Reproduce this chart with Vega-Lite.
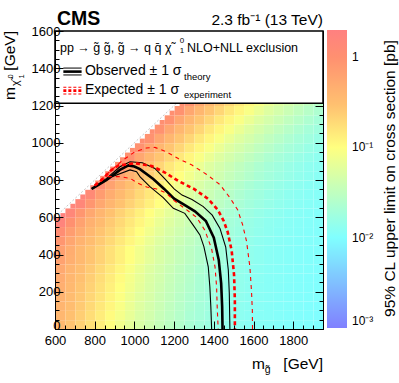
{
"$schema": "https://vega.github.io/schema/vega-lite/v6.json",
"width": 268, "height": 298,
"autosize": {"type": "none"},
"padding": {"left": 55, "top": 31, "right": 76, "bottom": 54},
"background": "white",
"config": {"view": {"stroke": "black", "strokeWidth": 1}, "font": "Liberation Sans"},
"data": {"values": [{}]},
"datasets": {
"heat": [
{"mg":600,"mchi":0,"v":0.355},{"mg":650,"mchi":0,"v":0.28},{"mg":700,"mchi":0,"v":0.22},{"mg":750,"mchi":0,"v":0.17},{"mg":800,"mchi":0,"v":0.13},{"mg":850,"mchi":0,"v":0.10},{"mg":900,"mchi":0,"v":0.079},{"mg":950,"mchi":0,"v":0.062},{"mg":1000,"mchi":0,"v":0.050},{"mg":1050,"mchi":0,"v":0.042},{"mg":1100,"mchi":0,"v":0.035},{"mg":1150,"mchi":0,"v":0.0295},{"mg":1200,"mchi":0,"v":0.025},{"mg":1250,"mchi":0,"v":0.0215},{"mg":1300,"mchi":0,"v":0.019},{"mg":1350,"mchi":0,"v":0.0168},{"mg":1400,"mchi":0,"v":0.0151},{"mg":1450,"mchi":0,"v":0.0138},{"mg":1500,"mchi":0,"v":0.0128},{"mg":1550,"mchi":0,"v":0.012},{"mg":1600,"mchi":0,"v":0.0115},{"mg":1650,"mchi":0,"v":0.0112},{"mg":1700,"mchi":0,"v":0.0108},{"mg":1750,"mchi":0,"v":0.0106},{"mg":1800,"mchi":0,"v":0.0103},{"mg":1850,"mchi":0,"v":0.0101},{"mg":1900,"mchi":0,"v":0.0099},
{"mg":600,"mchi":50,"v":0.375},{"mg":650,"mchi":50,"v":0.30},{"mg":700,"mchi":50,"v":0.235},{"mg":750,"mchi":50,"v":0.18},{"mg":800,"mchi":50,"v":0.14},{"mg":850,"mchi":50,"v":0.108},{"mg":900,"mchi":50,"v":0.084},{"mg":950,"mchi":50,"v":0.066},{"mg":1000,"mchi":50,"v":0.052},{"mg":1050,"mchi":50,"v":0.044},{"mg":1100,"mchi":50,"v":0.036},{"mg":1150,"mchi":50,"v":0.031},{"mg":1200,"mchi":50,"v":0.026},{"mg":1250,"mchi":50,"v":0.022},{"mg":1300,"mchi":50,"v":0.0195},{"mg":1350,"mchi":50,"v":0.0173},{"mg":1400,"mchi":50,"v":0.0155},{"mg":1450,"mchi":50,"v":0.0141},{"mg":1500,"mchi":50,"v":0.013},{"mg":1550,"mchi":50,"v":0.0122},{"mg":1600,"mchi":50,"v":0.0116},{"mg":1650,"mchi":50,"v":0.0113},{"mg":1700,"mchi":50,"v":0.0109},{"mg":1750,"mchi":50,"v":0.0106},{"mg":1800,"mchi":50,"v":0.0104},{"mg":1850,"mchi":50,"v":0.0101},{"mg":1900,"mchi":50,"v":0.0099},
{"mg":600,"mchi":100,"v":0.40},{"mg":650,"mchi":100,"v":0.32},{"mg":700,"mchi":100,"v":0.25},{"mg":750,"mchi":100,"v":0.195},{"mg":800,"mchi":100,"v":0.15},{"mg":850,"mchi":100,"v":0.116},{"mg":900,"mchi":100,"v":0.089},{"mg":950,"mchi":100,"v":0.070},{"mg":1000,"mchi":100,"v":0.055},{"mg":1050,"mchi":100,"v":0.046},{"mg":1100,"mchi":100,"v":0.038},{"mg":1150,"mchi":100,"v":0.032},{"mg":1200,"mchi":100,"v":0.027},{"mg":1250,"mchi":100,"v":0.023},{"mg":1300,"mchi":100,"v":0.020},{"mg":1350,"mchi":100,"v":0.0178},{"mg":1400,"mchi":100,"v":0.0158},{"mg":1450,"mchi":100,"v":0.0145},{"mg":1500,"mchi":100,"v":0.0132},{"mg":1550,"mchi":100,"v":0.0124},{"mg":1600,"mchi":100,"v":0.0117},{"mg":1650,"mchi":100,"v":0.0114},{"mg":1700,"mchi":100,"v":0.011},{"mg":1750,"mchi":100,"v":0.0107},{"mg":1800,"mchi":100,"v":0.0105},{"mg":1850,"mchi":100,"v":0.0102},{"mg":1900,"mchi":100,"v":0.0100},
{"mg":600,"mchi":150,"v":0.42},{"mg":650,"mchi":150,"v":0.335},{"mg":700,"mchi":150,"v":0.265},{"mg":750,"mchi":150,"v":0.205},{"mg":800,"mchi":150,"v":0.16},{"mg":850,"mchi":150,"v":0.122},{"mg":900,"mchi":150,"v":0.094},{"mg":950,"mchi":150,"v":0.074},{"mg":1000,"mchi":150,"v":0.058},{"mg":1050,"mchi":150,"v":0.048},{"mg":1100,"mchi":150,"v":0.040},{"mg":1150,"mchi":150,"v":0.0335},{"mg":1200,"mchi":150,"v":0.028},{"mg":1250,"mchi":150,"v":0.024},{"mg":1300,"mchi":150,"v":0.0207},{"mg":1350,"mchi":150,"v":0.0183},{"mg":1400,"mchi":150,"v":0.0163},{"mg":1450,"mchi":150,"v":0.0148},{"mg":1500,"mchi":150,"v":0.0135},{"mg":1550,"mchi":150,"v":0.0126},{"mg":1600,"mchi":150,"v":0.0119},{"mg":1650,"mchi":150,"v":0.0115},{"mg":1700,"mchi":150,"v":0.0111},{"mg":1750,"mchi":150,"v":0.0108},{"mg":1800,"mchi":150,"v":0.0106},{"mg":1850,"mchi":150,"v":0.0103},{"mg":1900,"mchi":150,"v":0.0101},
{"mg":600,"mchi":200,"v":0.46},{"mg":650,"mchi":200,"v":0.355},{"mg":700,"mchi":200,"v":0.28},{"mg":750,"mchi":200,"v":0.22},{"mg":800,"mchi":200,"v":0.17},{"mg":850,"mchi":200,"v":0.13},{"mg":900,"mchi":200,"v":0.10},{"mg":950,"mchi":200,"v":0.079},{"mg":1000,"mchi":200,"v":0.062},{"mg":1050,"mchi":200,"v":0.050},{"mg":1100,"mchi":200,"v":0.042},{"mg":1150,"mchi":200,"v":0.035},{"mg":1200,"mchi":200,"v":0.0295},{"mg":1250,"mchi":200,"v":0.025},{"mg":1300,"mchi":200,"v":0.0215},{"mg":1350,"mchi":200,"v":0.019},{"mg":1400,"mchi":200,"v":0.0168},{"mg":1450,"mchi":200,"v":0.0151},{"mg":1500,"mchi":200,"v":0.0138},{"mg":1550,"mchi":200,"v":0.0128},{"mg":1600,"mchi":200,"v":0.012},{"mg":1650,"mchi":200,"v":0.0115},{"mg":1700,"mchi":200,"v":0.0112},{"mg":1750,"mchi":200,"v":0.0108},{"mg":1800,"mchi":200,"v":0.0106},{"mg":1850,"mchi":200,"v":0.0103},{"mg":1900,"mchi":200,"v":0.0101},
{"mg":600,"mchi":250,"v":0.49},{"mg":650,"mchi":250,"v":0.375},{"mg":700,"mchi":250,"v":0.30},{"mg":750,"mchi":250,"v":0.235},{"mg":800,"mchi":250,"v":0.18},{"mg":850,"mchi":250,"v":0.14},{"mg":900,"mchi":250,"v":0.108},{"mg":950,"mchi":250,"v":0.084},{"mg":1000,"mchi":250,"v":0.066},{"mg":1050,"mchi":250,"v":0.052},{"mg":1100,"mchi":250,"v":0.044},{"mg":1150,"mchi":250,"v":0.036},{"mg":1200,"mchi":250,"v":0.031},{"mg":1250,"mchi":250,"v":0.026},{"mg":1300,"mchi":250,"v":0.022},{"mg":1350,"mchi":250,"v":0.0195},{"mg":1400,"mchi":250,"v":0.0173},{"mg":1450,"mchi":250,"v":0.0155},{"mg":1500,"mchi":250,"v":0.0141},{"mg":1550,"mchi":250,"v":0.013},{"mg":1600,"mchi":250,"v":0.0122},{"mg":1650,"mchi":250,"v":0.0116},{"mg":1700,"mchi":250,"v":0.0113},{"mg":1750,"mchi":250,"v":0.0109},{"mg":1800,"mchi":250,"v":0.0106},{"mg":1850,"mchi":250,"v":0.0104},{"mg":1900,"mchi":250,"v":0.0101},
{"mg":600,"mchi":300,"v":0.53},{"mg":650,"mchi":300,"v":0.40},{"mg":700,"mchi":300,"v":0.32},{"mg":750,"mchi":300,"v":0.25},{"mg":800,"mchi":300,"v":0.195},{"mg":850,"mchi":300,"v":0.15},{"mg":900,"mchi":300,"v":0.116},{"mg":950,"mchi":300,"v":0.089},{"mg":1000,"mchi":300,"v":0.070},{"mg":1050,"mchi":300,"v":0.055},{"mg":1100,"mchi":300,"v":0.046},{"mg":1150,"mchi":300,"v":0.038},{"mg":1200,"mchi":300,"v":0.032},{"mg":1250,"mchi":300,"v":0.027},{"mg":1300,"mchi":300,"v":0.023},{"mg":1350,"mchi":300,"v":0.020},{"mg":1400,"mchi":300,"v":0.0178},{"mg":1450,"mchi":300,"v":0.0158},{"mg":1500,"mchi":300,"v":0.0145},{"mg":1550,"mchi":300,"v":0.0132},{"mg":1600,"mchi":300,"v":0.0124},{"mg":1650,"mchi":300,"v":0.0117},{"mg":1700,"mchi":300,"v":0.0114},{"mg":1750,"mchi":300,"v":0.011},{"mg":1800,"mchi":300,"v":0.0107},{"mg":1850,"mchi":300,"v":0.0105},{"mg":1900,"mchi":300,"v":0.0102},
{"mg":600,"mchi":350,"v":0.64},{"mg":650,"mchi":350,"v":0.46},{"mg":700,"mchi":350,"v":0.355},{"mg":750,"mchi":350,"v":0.28},{"mg":800,"mchi":350,"v":0.22},{"mg":850,"mchi":350,"v":0.17},{"mg":900,"mchi":350,"v":0.13},{"mg":950,"mchi":350,"v":0.10},{"mg":1000,"mchi":350,"v":0.079},{"mg":1050,"mchi":350,"v":0.062},{"mg":1100,"mchi":350,"v":0.050},{"mg":1150,"mchi":350,"v":0.042},{"mg":1200,"mchi":350,"v":0.035},{"mg":1250,"mchi":350,"v":0.0295},{"mg":1300,"mchi":350,"v":0.025},{"mg":1350,"mchi":350,"v":0.0215},{"mg":1400,"mchi":350,"v":0.019},{"mg":1450,"mchi":350,"v":0.0168},{"mg":1500,"mchi":350,"v":0.0151},{"mg":1550,"mchi":350,"v":0.0138},{"mg":1600,"mchi":350,"v":0.0128},{"mg":1650,"mchi":350,"v":0.012},{"mg":1700,"mchi":350,"v":0.0115},{"mg":1750,"mchi":350,"v":0.0112},{"mg":1800,"mchi":350,"v":0.0108},{"mg":1850,"mchi":350,"v":0.0106},{"mg":1900,"mchi":350,"v":0.0103},
{"mg":600,"mchi":400,"v":0.67},{"mg":650,"mchi":400,"v":0.48},{"mg":700,"mchi":400,"v":0.355},{"mg":750,"mchi":400,"v":0.28},{"mg":800,"mchi":400,"v":0.22},{"mg":850,"mchi":400,"v":0.17},{"mg":900,"mchi":400,"v":0.13},{"mg":950,"mchi":400,"v":0.10},{"mg":1000,"mchi":400,"v":0.079},{"mg":1050,"mchi":400,"v":0.062},{"mg":1100,"mchi":400,"v":0.050},{"mg":1150,"mchi":400,"v":0.042},{"mg":1200,"mchi":400,"v":0.035},{"mg":1250,"mchi":400,"v":0.0295},{"mg":1300,"mchi":400,"v":0.025},{"mg":1350,"mchi":400,"v":0.0215},{"mg":1400,"mchi":400,"v":0.019},{"mg":1450,"mchi":400,"v":0.0168},{"mg":1500,"mchi":400,"v":0.0151},{"mg":1550,"mchi":400,"v":0.0138},{"mg":1600,"mchi":400,"v":0.0128},{"mg":1650,"mchi":400,"v":0.012},{"mg":1700,"mchi":400,"v":0.0115},{"mg":1750,"mchi":400,"v":0.0112},{"mg":1800,"mchi":400,"v":0.0108},{"mg":1850,"mchi":400,"v":0.0106},{"mg":1900,"mchi":400,"v":0.0103},
{"mg":600,"mchi":450,"v":0.85},{"mg":650,"mchi":450,"v":0.58},{"mg":700,"mchi":450,"v":0.42},{"mg":750,"mchi":450,"v":0.32},{"mg":800,"mchi":450,"v":0.25},{"mg":850,"mchi":450,"v":0.195},{"mg":900,"mchi":450,"v":0.15},{"mg":950,"mchi":450,"v":0.116},{"mg":1000,"mchi":450,"v":0.089},{"mg":1050,"mchi":450,"v":0.070},{"mg":1100,"mchi":450,"v":0.055},{"mg":1150,"mchi":450,"v":0.046},{"mg":1200,"mchi":450,"v":0.038},{"mg":1250,"mchi":450,"v":0.032},{"mg":1300,"mchi":450,"v":0.027},{"mg":1350,"mchi":450,"v":0.023},{"mg":1400,"mchi":450,"v":0.020},{"mg":1450,"mchi":450,"v":0.0178},{"mg":1500,"mchi":450,"v":0.0158},{"mg":1550,"mchi":450,"v":0.0145},{"mg":1600,"mchi":450,"v":0.0132},{"mg":1650,"mchi":450,"v":0.0124},{"mg":1700,"mchi":450,"v":0.0117},{"mg":1750,"mchi":450,"v":0.0114},{"mg":1800,"mchi":450,"v":0.011},{"mg":1850,"mchi":450,"v":0.0107},{"mg":1900,"mchi":450,"v":0.0105},
{"mg":600,"mchi":500,"v":1.15},{"mg":650,"mchi":500,"v":0.73},{"mg":700,"mchi":500,"v":0.51},{"mg":750,"mchi":500,"v":0.37},{"mg":800,"mchi":500,"v":0.28},{"mg":850,"mchi":500,"v":0.22},{"mg":900,"mchi":500,"v":0.17},{"mg":950,"mchi":500,"v":0.13},{"mg":1000,"mchi":500,"v":0.10},{"mg":1050,"mchi":500,"v":0.079},{"mg":1100,"mchi":500,"v":0.062},{"mg":1150,"mchi":500,"v":0.050},{"mg":1200,"mchi":500,"v":0.042},{"mg":1250,"mchi":500,"v":0.035},{"mg":1300,"mchi":500,"v":0.0295},{"mg":1350,"mchi":500,"v":0.025},{"mg":1400,"mchi":500,"v":0.0215},{"mg":1450,"mchi":500,"v":0.019},{"mg":1500,"mchi":500,"v":0.0168},{"mg":1550,"mchi":500,"v":0.0151},{"mg":1600,"mchi":500,"v":0.0138},{"mg":1650,"mchi":500,"v":0.0128},{"mg":1700,"mchi":500,"v":0.012},{"mg":1750,"mchi":500,"v":0.0115},{"mg":1800,"mchi":500,"v":0.0112},{"mg":1850,"mchi":500,"v":0.0108},{"mg":1900,"mchi":500,"v":0.0106},
{"mg":600,"mchi":550,"v":1.69},{"mg":650,"mchi":550,"v":0.99},{"mg":700,"mchi":550,"v":0.64},{"mg":750,"mchi":550,"v":0.44},{"mg":800,"mchi":550,"v":0.34},{"mg":850,"mchi":550,"v":0.25},{"mg":900,"mchi":550,"v":0.195},{"mg":950,"mchi":550,"v":0.15},{"mg":1000,"mchi":550,"v":0.116},{"mg":1050,"mchi":550,"v":0.089},{"mg":1100,"mchi":550,"v":0.070},{"mg":1150,"mchi":550,"v":0.055},{"mg":1200,"mchi":550,"v":0.046},{"mg":1250,"mchi":550,"v":0.038},{"mg":1300,"mchi":550,"v":0.032},{"mg":1350,"mchi":550,"v":0.027},{"mg":1400,"mchi":550,"v":0.023},{"mg":1450,"mchi":550,"v":0.020},{"mg":1500,"mchi":550,"v":0.0178},{"mg":1550,"mchi":550,"v":0.0158},{"mg":1600,"mchi":550,"v":0.0145},{"mg":1650,"mchi":550,"v":0.0132},{"mg":1700,"mchi":550,"v":0.0124},{"mg":1750,"mchi":550,"v":0.0117},{"mg":1800,"mchi":550,"v":0.0114},{"mg":1850,"mchi":550,"v":0.011},{"mg":1900,"mchi":550,"v":0.0107},
{"mg":650,"mchi":600,"v":1.48},{"mg":700,"mchi":600,"v":0.85},{"mg":750,"mchi":600,"v":0.55},{"mg":800,"mchi":600,"v":0.39},{"mg":850,"mchi":600,"v":0.29},{"mg":900,"mchi":600,"v":0.22},{"mg":950,"mchi":600,"v":0.17},{"mg":1000,"mchi":600,"v":0.13},{"mg":1050,"mchi":600,"v":0.10},{"mg":1100,"mchi":600,"v":0.079},{"mg":1150,"mchi":600,"v":0.062},{"mg":1200,"mchi":600,"v":0.050},{"mg":1250,"mchi":600,"v":0.042},{"mg":1300,"mchi":600,"v":0.035},{"mg":1350,"mchi":600,"v":0.0295},{"mg":1400,"mchi":600,"v":0.025},{"mg":1450,"mchi":600,"v":0.0215},{"mg":1500,"mchi":600,"v":0.019},{"mg":1550,"mchi":600,"v":0.0168},{"mg":1600,"mchi":600,"v":0.0151},{"mg":1650,"mchi":600,"v":0.0138},{"mg":1700,"mchi":600,"v":0.0128},{"mg":1750,"mchi":600,"v":0.012},{"mg":1800,"mchi":600,"v":0.0115},{"mg":1850,"mchi":600,"v":0.0112},{"mg":1900,"mchi":600,"v":0.0108},
{"mg":700,"mchi":650,"v":1.48},{"mg":750,"mchi":650,"v":0.85},{"mg":800,"mchi":650,"v":0.55},{"mg":850,"mchi":650,"v":0.39},{"mg":900,"mchi":650,"v":0.29},{"mg":950,"mchi":650,"v":0.22},{"mg":1000,"mchi":650,"v":0.17},{"mg":1050,"mchi":650,"v":0.13},{"mg":1100,"mchi":650,"v":0.10},{"mg":1150,"mchi":650,"v":0.079},{"mg":1200,"mchi":650,"v":0.062},{"mg":1250,"mchi":650,"v":0.050},{"mg":1300,"mchi":650,"v":0.042},{"mg":1350,"mchi":650,"v":0.035},{"mg":1400,"mchi":650,"v":0.0295},{"mg":1450,"mchi":650,"v":0.025},{"mg":1500,"mchi":650,"v":0.0215},{"mg":1550,"mchi":650,"v":0.019},{"mg":1600,"mchi":650,"v":0.0168},{"mg":1650,"mchi":650,"v":0.0151},{"mg":1700,"mchi":650,"v":0.0138},{"mg":1750,"mchi":650,"v":0.0128},{"mg":1800,"mchi":650,"v":0.012},{"mg":1850,"mchi":650,"v":0.0115},{"mg":1900,"mchi":650,"v":0.0112},
{"mg":750,"mchi":700,"v":1.28},{"mg":800,"mchi":700,"v":0.74},{"mg":850,"mchi":700,"v":0.48},{"mg":900,"mchi":700,"v":0.35},{"mg":950,"mchi":700,"v":0.26},{"mg":1000,"mchi":700,"v":0.195},{"mg":1050,"mchi":700,"v":0.15},{"mg":1100,"mchi":700,"v":0.116},{"mg":1150,"mchi":700,"v":0.089},{"mg":1200,"mchi":700,"v":0.070},{"mg":1250,"mchi":700,"v":0.055},{"mg":1300,"mchi":700,"v":0.046},{"mg":1350,"mchi":700,"v":0.038},{"mg":1400,"mchi":700,"v":0.032},{"mg":1450,"mchi":700,"v":0.027},{"mg":1500,"mchi":700,"v":0.023},{"mg":1550,"mchi":700,"v":0.020},{"mg":1600,"mchi":700,"v":0.0178},{"mg":1650,"mchi":700,"v":0.0158},{"mg":1700,"mchi":700,"v":0.0145},{"mg":1750,"mchi":700,"v":0.0132},{"mg":1800,"mchi":700,"v":0.0124},{"mg":1850,"mchi":700,"v":0.0117},{"mg":1900,"mchi":700,"v":0.0114},
{"mg":800,"mchi":750,"v":1.10},{"mg":850,"mchi":750,"v":0.64},{"mg":900,"mchi":750,"v":0.43},{"mg":950,"mchi":750,"v":0.31},{"mg":1000,"mchi":750,"v":0.23},{"mg":1050,"mchi":750,"v":0.17},{"mg":1100,"mchi":750,"v":0.13},{"mg":1150,"mchi":750,"v":0.10},{"mg":1200,"mchi":750,"v":0.079},{"mg":1250,"mchi":750,"v":0.062},{"mg":1300,"mchi":750,"v":0.050},{"mg":1350,"mchi":750,"v":0.042},{"mg":1400,"mchi":750,"v":0.035},{"mg":1450,"mchi":750,"v":0.0295},{"mg":1500,"mchi":750,"v":0.025},{"mg":1550,"mchi":750,"v":0.0215},{"mg":1600,"mchi":750,"v":0.019},{"mg":1650,"mchi":750,"v":0.0168},{"mg":1700,"mchi":750,"v":0.0151},{"mg":1750,"mchi":750,"v":0.0138},{"mg":1800,"mchi":750,"v":0.0128},{"mg":1850,"mchi":750,"v":0.012},{"mg":1900,"mchi":750,"v":0.0115},
{"mg":850,"mchi":800,"v":1.10},{"mg":900,"mchi":800,"v":0.64},{"mg":950,"mchi":800,"v":0.43},{"mg":1000,"mchi":800,"v":0.31},{"mg":1050,"mchi":800,"v":0.23},{"mg":1100,"mchi":800,"v":0.17},{"mg":1150,"mchi":800,"v":0.13},{"mg":1200,"mchi":800,"v":0.10},{"mg":1250,"mchi":800,"v":0.079},{"mg":1300,"mchi":800,"v":0.062},{"mg":1350,"mchi":800,"v":0.050},{"mg":1400,"mchi":800,"v":0.042},{"mg":1450,"mchi":800,"v":0.035},{"mg":1500,"mchi":800,"v":0.0295},{"mg":1550,"mchi":800,"v":0.025},{"mg":1600,"mchi":800,"v":0.0215},{"mg":1650,"mchi":800,"v":0.019},{"mg":1700,"mchi":800,"v":0.0168},{"mg":1750,"mchi":800,"v":0.0151},{"mg":1800,"mchi":800,"v":0.0138},{"mg":1850,"mchi":800,"v":0.0128},{"mg":1900,"mchi":800,"v":0.012},
{"mg":900,"mchi":850,"v":0.95},{"mg":950,"mchi":850,"v":0.56},{"mg":1000,"mchi":850,"v":0.38},{"mg":1050,"mchi":850,"v":0.275},{"mg":1100,"mchi":850,"v":0.205},{"mg":1150,"mchi":850,"v":0.15},{"mg":1200,"mchi":850,"v":0.116},{"mg":1250,"mchi":850,"v":0.089},{"mg":1300,"mchi":850,"v":0.070},{"mg":1350,"mchi":850,"v":0.055},{"mg":1400,"mchi":850,"v":0.046},{"mg":1450,"mchi":850,"v":0.038},{"mg":1500,"mchi":850,"v":0.032},{"mg":1550,"mchi":850,"v":0.027},{"mg":1600,"mchi":850,"v":0.023},{"mg":1650,"mchi":850,"v":0.020},{"mg":1700,"mchi":850,"v":0.0178},{"mg":1750,"mchi":850,"v":0.0158},{"mg":1800,"mchi":850,"v":0.0145},{"mg":1850,"mchi":850,"v":0.0132},{"mg":1900,"mchi":850,"v":0.0124},
{"mg":950,"mchi":900,"v":0.95},{"mg":1000,"mchi":900,"v":0.56},{"mg":1050,"mchi":900,"v":0.38},{"mg":1100,"mchi":900,"v":0.275},{"mg":1150,"mchi":900,"v":0.205},{"mg":1200,"mchi":900,"v":0.15},{"mg":1250,"mchi":900,"v":0.116},{"mg":1300,"mchi":900,"v":0.089},{"mg":1350,"mchi":900,"v":0.070},{"mg":1400,"mchi":900,"v":0.055},{"mg":1450,"mchi":900,"v":0.046},{"mg":1500,"mchi":900,"v":0.038},{"mg":1550,"mchi":900,"v":0.032},{"mg":1600,"mchi":900,"v":0.027},{"mg":1650,"mchi":900,"v":0.023},{"mg":1700,"mchi":900,"v":0.020},{"mg":1750,"mchi":900,"v":0.0178},{"mg":1800,"mchi":900,"v":0.0158},{"mg":1850,"mchi":900,"v":0.0145},{"mg":1900,"mchi":900,"v":0.0132},
{"mg":1000,"mchi":950,"v":0.95},{"mg":1050,"mchi":950,"v":0.56},{"mg":1100,"mchi":950,"v":0.38},{"mg":1150,"mchi":950,"v":0.275},{"mg":1200,"mchi":950,"v":0.205},{"mg":1250,"mchi":950,"v":0.15},{"mg":1300,"mchi":950,"v":0.116},{"mg":1350,"mchi":950,"v":0.089},{"mg":1400,"mchi":950,"v":0.070},{"mg":1450,"mchi":950,"v":0.055},{"mg":1500,"mchi":950,"v":0.046},{"mg":1550,"mchi":950,"v":0.038},{"mg":1600,"mchi":950,"v":0.032},{"mg":1650,"mchi":950,"v":0.027},{"mg":1700,"mchi":950,"v":0.023},{"mg":1750,"mchi":950,"v":0.020},{"mg":1800,"mchi":950,"v":0.0178},{"mg":1850,"mchi":950,"v":0.0158},{"mg":1900,"mchi":950,"v":0.0145},
{"mg":1050,"mchi":1000,"v":0.95},{"mg":1100,"mchi":1000,"v":0.56},{"mg":1150,"mchi":1000,"v":0.38},{"mg":1200,"mchi":1000,"v":0.275},{"mg":1250,"mchi":1000,"v":0.205},{"mg":1300,"mchi":1000,"v":0.15},{"mg":1350,"mchi":1000,"v":0.116},{"mg":1400,"mchi":1000,"v":0.089},{"mg":1450,"mchi":1000,"v":0.070},{"mg":1500,"mchi":1000,"v":0.055},{"mg":1550,"mchi":1000,"v":0.046},{"mg":1600,"mchi":1000,"v":0.038},{"mg":1650,"mchi":1000,"v":0.032},{"mg":1700,"mchi":1000,"v":0.027},{"mg":1750,"mchi":1000,"v":0.023},{"mg":1800,"mchi":1000,"v":0.020},{"mg":1850,"mchi":1000,"v":0.0178},{"mg":1900,"mchi":1000,"v":0.0158},
{"mg":1100,"mchi":1050,"v":0.95},{"mg":1150,"mchi":1050,"v":0.56},{"mg":1200,"mchi":1050,"v":0.38},{"mg":1250,"mchi":1050,"v":0.275},{"mg":1300,"mchi":1050,"v":0.205},{"mg":1350,"mchi":1050,"v":0.15},{"mg":1400,"mchi":1050,"v":0.116},{"mg":1450,"mchi":1050,"v":0.089},{"mg":1500,"mchi":1050,"v":0.070},{"mg":1550,"mchi":1050,"v":0.055},{"mg":1600,"mchi":1050,"v":0.046},{"mg":1650,"mchi":1050,"v":0.038},{"mg":1700,"mchi":1050,"v":0.032},{"mg":1750,"mchi":1050,"v":0.027},{"mg":1800,"mchi":1050,"v":0.023},{"mg":1850,"mchi":1050,"v":0.020},{"mg":1900,"mchi":1050,"v":0.0178},
{"mg":1150,"mchi":1100,"v":0.95},{"mg":1200,"mchi":1100,"v":0.56},{"mg":1250,"mchi":1100,"v":0.38},{"mg":1300,"mchi":1100,"v":0.275},{"mg":1350,"mchi":1100,"v":0.205},{"mg":1400,"mchi":1100,"v":0.15},{"mg":1450,"mchi":1100,"v":0.116},{"mg":1500,"mchi":1100,"v":0.089},{"mg":1550,"mchi":1100,"v":0.070},{"mg":1600,"mchi":1100,"v":0.055},{"mg":1650,"mchi":1100,"v":0.046},{"mg":1700,"mchi":1100,"v":0.038},{"mg":1750,"mchi":1100,"v":0.032},{"mg":1800,"mchi":1100,"v":0.027},{"mg":1850,"mchi":1100,"v":0.023},{"mg":1900,"mchi":1100,"v":0.020},
{"mg":1200,"mchi":1150,"v":0.95},{"mg":1250,"mchi":1150,"v":0.56},{"mg":1300,"mchi":1150,"v":0.38},{"mg":1350,"mchi":1150,"v":0.275},{"mg":1400,"mchi":1150,"v":0.205},{"mg":1450,"mchi":1150,"v":0.15},{"mg":1500,"mchi":1150,"v":0.116},{"mg":1550,"mchi":1150,"v":0.089},{"mg":1600,"mchi":1150,"v":0.070},{"mg":1650,"mchi":1150,"v":0.055},{"mg":1700,"mchi":1150,"v":0.046},{"mg":1750,"mchi":1150,"v":0.038},{"mg":1800,"mchi":1150,"v":0.032},{"mg":1850,"mchi":1150,"v":0.027},{"mg":1900,"mchi":1150,"v":0.023},
{"mg":1250,"mchi":1200,"v":0.95},{"mg":1300,"mchi":1200,"v":0.56},{"mg":1350,"mchi":1200,"v":0.38},{"mg":1400,"mchi":1200,"v":0.275},{"mg":1450,"mchi":1200,"v":0.205},{"mg":1500,"mchi":1200,"v":0.15},{"mg":1550,"mchi":1200,"v":0.116},{"mg":1600,"mchi":1200,"v":0.089},{"mg":1650,"mchi":1200,"v":0.070},{"mg":1700,"mchi":1200,"v":0.055},{"mg":1750,"mchi":1200,"v":0.046},{"mg":1800,"mchi":1200,"v":0.038},{"mg":1850,"mchi":1200,"v":0.032},{"mg":1900,"mchi":1200,"v":0.027}
],
"edge": [
{"mg":625,"mchi":600,"v":1.8},{"mg":675,"mchi":650,"v":1.6},{"mg":725,"mchi":700,"v":1.6},{"mg":775,"mchi":750,"v":1.4},{"mg":825,"mchi":800,"v":1.2},{"mg":875,"mchi":850,"v":1.2},{"mg":925,"mchi":900,"v":1.05},{"mg":975,"mchi":950,"v":1.05},{"mg":1025,"mchi":1000,"v":1.05},{"mg":1075,"mchi":1050,"v":1.05},{"mg":1125,"mchi":1100,"v":1.05},{"mg":1175,"mchi":1150,"v":1.05},{"mg":1225,"mchi":1200,"v":1.05}
],
"contours": [
{"c":"obs","i":0,"mg":785,"mchi":752},{"c":"obs","i":1,"mg":860,"mchi":800},{"c":"obs","i":2,"mg":927,"mchi":854},{"c":"obs","i":3,"mg":970,"mchi":878},{"c":"obs","i":4,"mg":1000,"mchi":872},{"c":"obs","i":5,"mg":1028,"mchi":858},{"c":"obs","i":6,"mg":1095,"mchi":805},{"c":"obs","i":7,"mg":1150,"mchi":752},{"c":"obs","i":8,"mg":1200,"mchi":700},{"c":"obs","i":9,"mg":1250,"mchi":668},{"c":"obs","i":10,"mg":1305,"mchi":632},{"c":"obs","i":11,"mg":1360,"mchi":580},{"c":"obs","i":12,"mg":1400,"mchi":490},{"c":"obs","i":13,"mg":1425,"mchi":370},{"c":"obs","i":14,"mg":1437,"mchi":245},{"c":"obs","i":15,"mg":1442,"mchi":120},{"c":"obs","i":16,"mg":1444,"mchi":0},
{"c":"obs_up","i":0,"mg":785,"mchi":752},{"c":"obs_up","i":1,"mg":860,"mchi":809},{"c":"obs_up","i":2,"mg":927,"mchi":871},{"c":"obs_up","i":3,"mg":978,"mchi":898},{"c":"obs_up","i":4,"mg":1040,"mchi":893},{"c":"obs_up","i":5,"mg":1103,"mchi":862},{"c":"obs_up","i":6,"mg":1150,"mchi":810},{"c":"obs_up","i":7,"mg":1200,"mchi":752},{"c":"obs_up","i":8,"mg":1240,"mchi":719},{"c":"obs_up","i":9,"mg":1290,"mchi":695},{"c":"obs_up","i":10,"mg":1347,"mchi":657},{"c":"obs_up","i":11,"mg":1392,"mchi":611},{"c":"obs_up","i":12,"mg":1431,"mchi":540},{"c":"obs_up","i":13,"mg":1460,"mchi":440},{"c":"obs_up","i":14,"mg":1473,"mchi":317},{"c":"obs_up","i":15,"mg":1478,"mchi":192},{"c":"obs_up","i":16,"mg":1481,"mchi":0},
{"c":"obs_dn","i":0,"mg":785,"mchi":752},{"c":"obs_dn","i":1,"mg":880,"mchi":815},{"c":"obs_dn","i":2,"mg":978,"mchi":854},{"c":"obs_dn","i":3,"mg":1011,"mchi":845},{"c":"obs_dn","i":4,"mg":1030,"mchi":815},{"c":"obs_dn","i":5,"mg":1078,"mchi":764},{"c":"obs_dn","i":6,"mg":1145,"mchi":705},{"c":"obs_dn","i":7,"mg":1196,"mchi":648},{"c":"obs_dn","i":8,"mg":1254,"mchi":621},{"c":"obs_dn","i":9,"mg":1296,"mchi":558},{"c":"obs_dn","i":10,"mg":1330,"mchi":505},{"c":"obs_dn","i":11,"mg":1350,"mchi":442},{"c":"obs_dn","i":12,"mg":1372,"mchi":334},{"c":"obs_dn","i":13,"mg":1380,"mchi":227},{"c":"obs_dn","i":14,"mg":1385,"mchi":120},{"c":"obs_dn","i":15,"mg":1389,"mchi":0},
{"c":"exp","i":0,"mg":800,"mchi":770},{"c":"exp","i":1,"mg":840,"mchi":805},{"c":"exp","i":2,"mg":880,"mchi":850},{"c":"exp","i":3,"mg":919,"mchi":878},{"c":"exp","i":4,"mg":1003,"mchi":890},{"c":"exp","i":5,"mg":1087,"mchi":875},{"c":"exp","i":6,"mg":1154,"mchi":840},{"c":"exp","i":7,"mg":1221,"mchi":795},{"c":"exp","i":8,"mg":1300,"mchi":752},{"c":"exp","i":9,"mg":1370,"mchi":700},{"c":"exp","i":10,"mg":1420,"mchi":640},{"c":"exp","i":11,"mg":1450,"mchi":580},{"c":"exp","i":12,"mg":1470,"mchi":520},{"c":"exp","i":13,"mg":1490,"mchi":420},{"c":"exp","i":14,"mg":1502,"mchi":290},{"c":"exp","i":15,"mg":1506,"mchi":156},{"c":"exp","i":16,"mg":1506,"mchi":0},
{"c":"exp_up","i":0,"mg":800,"mchi":770},{"c":"exp_up","i":1,"mg":860,"mchi":830},{"c":"exp_up","i":2,"mg":940,"mchi":905},{"c":"exp_up","i":3,"mg":1000,"mchi":950},{"c":"exp_up","i":4,"mg":1060,"mchi":972},{"c":"exp_up","i":5,"mg":1103,"mchi":975},{"c":"exp_up","i":6,"mg":1154,"mchi":955},{"c":"exp_up","i":7,"mg":1221,"mchi":915},{"c":"exp_up","i":8,"mg":1290,"mchi":880},{"c":"exp_up","i":9,"mg":1364,"mchi":830},{"c":"exp_up","i":10,"mg":1431,"mchi":775},{"c":"exp_up","i":11,"mg":1481,"mchi":705},{"c":"exp_up","i":12,"mg":1520,"mchi":640},{"c":"exp_up","i":13,"mg":1545,"mchi":560},{"c":"exp_up","i":14,"mg":1565,"mchi":470},{"c":"exp_up","i":15,"mg":1582,"mchi":330},{"c":"exp_up","i":16,"mg":1590,"mchi":200},{"c":"exp_up","i":17,"mg":1594,"mchi":100},{"c":"exp_up","i":18,"mg":1595,"mchi":0},
{"c":"exp_dn","i":0,"mg":800,"mchi":770},{"c":"exp_dn","i":1,"mg":860,"mchi":818},{"c":"exp_dn","i":2,"mg":927,"mchi":818},{"c":"exp_dn","i":3,"mg":978,"mchi":809},{"c":"exp_dn","i":4,"mg":1019,"mchi":782},{"c":"exp_dn","i":5,"mg":1062,"mchi":762},{"c":"exp_dn","i":6,"mg":1112,"mchi":752},{"c":"exp_dn","i":7,"mg":1160,"mchi":730},{"c":"exp_dn","i":8,"mg":1200,"mchi":690},{"c":"exp_dn","i":9,"mg":1250,"mchi":650},{"c":"exp_dn","i":10,"mg":1313,"mchi":600},{"c":"exp_dn","i":11,"mg":1355,"mchi":530},{"c":"exp_dn","i":12,"mg":1389,"mchi":430},{"c":"exp_dn","i":13,"mg":1406,"mchi":334},{"c":"exp_dn","i":14,"mg":1414,"mchi":227},{"c":"exp_dn","i":15,"mg":1417,"mchi":120},{"c":"exp_dn","i":16,"mg":1422,"mchi":0}
]
},
"layer": [
{
"data": {"name": "heat"},
"mark": {"type": "rect", "clip": true},
"encoding": {
"x": {"field": "mg", "type": "quantitative", "bin": {"binned": true, "step": 50}, "scale": {"domain": [600, 1950], "nice": false, "zero": false},
"axis": {"orient": "bottom", "title": null, "values": [600,650,700,750,800,850,900,950,1000,1050,1100,1150,1200,1250,1300,1350,1400,1450,1500,1550,1600,1650,1700,1750,1800,1850,1900,1950], "format": "d", "labelExpr": "datum.value % 200 === 0 ? datum.label : ''", "tickSize": {"condition": {"test": "datum.value % 200 === 0", "value": -8}, "value": -4}, "tickColor": "black", "domainColor": "black", "labelColor": "black", "labelFont": "Liberation Sans", "labelFontSize": 13, "labelPadding": 13, "labelOverlap": false, "labelFlush": false, "grid": false, "zindex": 1}},
"y": {"field": "mchi", "type": "quantitative", "bin": {"binned": true, "step": 50}, "scale": {"domain": [0, 1600], "nice": false, "zero": false}, "axis": null},
"color": {"field": "v", "type": "quantitative",
"scale": {"type": "log", "domain": [0.001, 0.01, 0.1, 0.3, 1, 2], "range": ["#8080ff", "#80ffff", "#ffff80", "#ffc070", "#ff9070", "#ff8080"], "interpolate": "rgb"},
"legend": {"type": "gradient", "orient": "none", "legendX": 272, "legendY": -1, "direction": "vertical", "gradientLength": 298, "gradientThickness": 20, "gradientStrokeWidth": 0, "title": null, "values": [0.001, 0.01, 0.1, 1], "labelExpr": "datum.value > 0.5 ? '1' : datum.value > 0.05 ? '10⁻¹' : datum.value > 0.005 ? '10⁻²' : '10⁻³'", "labelFont": "Liberation Sans", "labelFontSize": 12, "labelColor": "black", "labelOffset": 5}}
}
},
{
"data": {"name": "edge"},
"mark": {"type": "rect", "clip": true},
"encoding": {
"x": {"field": "mg", "type": "quantitative", "bin": {"binned": true, "step": 25}},
"y": {"field": "mchi", "type": "quantitative", "bin": {"binned": true, "step": 25}, "axis": null},
"color": {"field": "v", "type": "quantitative"}
}
},
{"mark": {"type": "rule", "color": "#c8c8c8", "strokeWidth": 1, "strokeDash": [2, 2]}, "encoding": {"x": {"datum": 600, "type": "quantitative"}, "x2": {"datum": 1212}, "y": {"datum": 600, "type": "quantitative", "axis": null}, "y2": {"datum": 1212}}},
{
"data": {"name": "contours"},
"transform": [{"filter": "datum.c === 'obs_up' || datum.c === 'obs_dn'"}],
"mark": {"type": "line", "stroke": "black", "strokeWidth": 1.1, "clip": true},
"encoding": {
"x": {"field": "mg", "type": "quantitative"},
"y": {"field": "mchi", "type": "quantitative", "scale": {"domain": [0, 1600], "nice": false, "zero": false},
"axis": {"orient": "left", "title": null, "values": [0,50,100,150,200,250,300,350,400,450,500,550,600,650,700,750,800,850,900,950,1000,1050,1100,1150,1200,1250,1300,1350,1400,1450,1500,1550,1600], "format": "d", "labelExpr": "datum.value % 200 === 0 ? datum.label : ''", "tickSize": {"condition": {"test": "datum.value % 200 === 0", "value": -8}, "value": -4}, "labelBaseline": {"condition": {"test": "datum.value === 0", "value": "alphabetic"}, "value": "middle"}, "tickColor": "black", "domainColor": "black", "labelColor": "black", "labelFont": "Liberation Sans", "labelFontSize": 13, "labelPadding": 3, "labelOverlap": false, "labelFlush": false, "grid": false, "zindex": 1}},
"detail": {"field": "c"},
"order": {"field": "i", "type": "quantitative"}
}
},
{
"data": {"name": "contours"},
"transform": [{"filter": "datum.c === 'obs'"}],
"mark": {"type": "line", "stroke": "black", "strokeWidth": 2.6, "clip": true},
"encoding": {
"x": {"field": "mg", "type": "quantitative"},
"y": {"field": "mchi", "type": "quantitative", "axis": null},
"order": {"field": "i", "type": "quantitative"}
}
},
{
"data": {"name": "contours"},
"transform": [{"filter": "datum.c === 'exp_up' || datum.c === 'exp_dn'"}],
"mark": {"type": "line", "stroke": "#ff0000", "strokeWidth": 1.1, "strokeDash": [4, 4], "clip": true},
"encoding": {
"x": {"field": "mg", "type": "quantitative"},
"y": {"field": "mchi", "type": "quantitative", "axis": null},
"detail": {"field": "c"},
"order": {"field": "i", "type": "quantitative"}
}
},
{
"data": {"name": "contours"},
"transform": [{"filter": "datum.c === 'exp'"}],
"mark": {"type": "line", "stroke": "#ff0000", "strokeWidth": 2.6, "strokeDash": [4, 3], "clip": true},
"encoding": {
"x": {"field": "mg", "type": "quantitative"},
"y": {"field": "mchi", "type": "quantitative", "axis": null},
"order": {"field": "i", "type": "quantitative"}
}
},
{
"mark": {"type": "rect", "fill": "white", "stroke": "black", "strokeWidth": 1.5},
"encoding": {
"x": {"datum": 600, "type": "quantitative"}, "x2": {"datum": 1950},
"y": {"datum": 1212, "type": "quantitative", "axis": {"orient": "right", "title": null, "values": [0,50,100,150,200,250,300,350,400,450,500,550,600,650,700,750,800,850,900,950,1000,1050,1100,1150,1200], "labels": false, "tickSize": {"condition": {"test": "datum.value % 200 === 0", "value": -8}, "value": -4}, "tickColor": "black", "domainColor": "black", "grid": false, "zindex": 1}},
"y2": {"datum": 1600}
}
},
{"mark": {"type": "rule", "color": "black", "strokeWidth": 1}, "encoding": {"x": {"datum": 642, "type": "quantitative"}, "x2": {"datum": 734}, "y": {"datum": 1401, "type": "quantitative", "axis": null}}},
{"mark": {"type": "rule", "color": "black", "strokeWidth": 2.6}, "encoding": {"x": {"datum": 642, "type": "quantitative"}, "x2": {"datum": 734}, "y": {"datum": 1382, "type": "quantitative", "axis": null}}},
{"mark": {"type": "rule", "color": "black", "strokeWidth": 1}, "encoding": {"x": {"datum": 642, "type": "quantitative"}, "x2": {"datum": 734}, "y": {"datum": 1364, "type": "quantitative", "axis": null}}},
{"mark": {"type": "rule", "color": "#ff0000", "strokeWidth": 1.1, "strokeDash": [3, 2]}, "encoding": {"x": {"datum": 642, "type": "quantitative"}, "x2": {"datum": 734}, "y": {"datum": 1298, "type": "quantitative", "axis": null}}},
{"mark": {"type": "rule", "color": "#ff0000", "strokeWidth": 2.6, "strokeDash": [3, 2]}, "encoding": {"x": {"datum": 642, "type": "quantitative"}, "x2": {"datum": 734}, "y": {"datum": 1280, "type": "quantitative", "axis": null}}},
{"mark": {"type": "rule", "color": "#ff0000", "strokeWidth": 1.1, "strokeDash": [3, 2]}, "encoding": {"x": {"datum": 642, "type": "quantitative"}, "x2": {"datum": 734}, "y": {"datum": 1262, "type": "quantitative", "axis": null}}},
{"mark": {"type": "text", "text": "pp → g\u0303 g\u0303, g\u0303 → q q\u0304 χ\u0303", "font": "Liberation Sans", "fontSize": 12.5, "align": "left", "baseline": "alphabetic", "color": "black"}, "encoding": {"x": {"datum": 625, "type": "quantitative"}, "y": {"datum": 1487, "type": "quantitative", "axis": null}}},
{"mark": {"type": "text", "text": "0", "font": "Liberation Sans", "fontSize": 8, "align": "left", "baseline": "alphabetic", "color": "black"}, "encoding": {"x": {"datum": 1229, "type": "quantitative"}, "y": {"datum": 1533, "type": "quantitative", "axis": null}}},
{"mark": {"type": "text", "text": "1", "font": "Liberation Sans", "fontSize": 8, "align": "left", "baseline": "alphabetic", "color": "black"}, "encoding": {"x": {"datum": 1229, "type": "quantitative"}, "y": {"datum": 1482, "type": "quantitative", "axis": null}}},
{"mark": {"type": "text", "text": "NLO+NLL exclusion", "font": "Liberation Sans", "fontSize": 12.5, "align": "left", "baseline": "alphabetic", "color": "black"}, "encoding": {"x": {"datum": 1265, "type": "quantitative"}, "y": {"datum": 1487, "type": "quantitative", "axis": null}}},
{"mark": {"type": "text", "text": "Observed ± 1 σ", "font": "Liberation Sans", "fontSize": 14, "align": "left", "baseline": "alphabetic", "color": "black"}, "encoding": {"x": {"datum": 751, "type": "quantitative"}, "y": {"datum": 1364, "type": "quantitative", "axis": null}}},
{"mark": {"type": "text", "text": "theory", "font": "Liberation Sans", "fontSize": 9.5, "align": "left", "baseline": "alphabetic", "color": "black"}, "encoding": {"x": {"datum": 1250, "type": "quantitative"}, "y": {"datum": 1337, "type": "quantitative", "axis": null}}},
{"mark": {"type": "text", "text": "Expected ± 1 σ", "font": "Liberation Sans", "fontSize": 14, "align": "left", "baseline": "alphabetic", "color": "black"}, "encoding": {"x": {"datum": 751, "type": "quantitative"}, "y": {"datum": 1264, "type": "quantitative", "axis": null}}},
{"mark": {"type": "text", "text": "experiment", "font": "Liberation Sans", "fontSize": 9.5, "align": "left", "baseline": "alphabetic", "color": "black"}, "encoding": {"x": {"datum": 1250, "type": "quantitative"}, "y": {"datum": 1238, "type": "quantitative", "axis": null}}},
{"mark": {"type": "text", "text": "CMS", "font": "Liberation Sans", "fontWeight": "bold", "fontSize": 19.5, "align": "left", "baseline": "alphabetic", "dx": 2, "dy": -6, "color": "black"}, "encoding": {"x": {"datum": 600, "type": "quantitative"}, "y": {"datum": 1600, "type": "quantitative", "axis": null}}},
{"mark": {"type": "text", "text": "2.3 fb⁻¹ (13 TeV)", "font": "Liberation Sans", "fontSize": 15.5, "align": "right", "baseline": "alphabetic", "dy": -6, "color": "black"}, "encoding": {"x": {"datum": 1950, "type": "quantitative"}, "y": {"datum": 1600, "type": "quantitative", "axis": null}}},
{"mark": {"type": "text", "text": "m", "font": "Liberation Sans", "fontSize": 15.5, "align": "left", "baseline": "alphabetic", "dy": 40, "color": "black"}, "encoding": {"x": {"datum": 1592, "type": "quantitative"}, "y": {"datum": 0, "type": "quantitative", "axis": null}}},
{"mark": {"type": "text", "text": "g\u0303", "font": "Liberation Sans", "fontSize": 10.5, "align": "left", "baseline": "alphabetic", "dy": 44, "color": "black"}, "encoding": {"x": {"datum": 1657, "type": "quantitative"}, "y": {"datum": 0, "type": "quantitative", "axis": null}}},
{"mark": {"type": "text", "text": "[GeV]", "font": "Liberation Sans", "fontSize": 15.5, "align": "right", "baseline": "alphabetic", "dy": 40, "color": "black"}, "encoding": {"x": {"datum": 1950, "type": "quantitative"}, "y": {"datum": 0, "type": "quantitative", "axis": null}}},
{"mark": {"type": "text", "text": "m", "font": "Liberation Sans", "fontSize": 15.5, "angle": 270, "align": "left", "baseline": "alphabetic", "dy": -40, "color": "black"}, "encoding": {"x": {"datum": 600, "type": "quantitative"}, "y": {"datum": 1229, "type": "quantitative", "axis": null}}},
{"mark": {"type": "text", "text": "χ\u0303", "font": "Liberation Sans", "fontSize": 10.5, "angle": 270, "align": "left", "baseline": "alphabetic", "dy": -36, "color": "black"}, "encoding": {"x": {"datum": 600, "type": "quantitative"}, "y": {"datum": 1305, "type": "quantitative", "axis": null}}},
{"mark": {"type": "text", "text": "0", "font": "Liberation Sans", "fontSize": 7.5, "angle": 270, "align": "left", "baseline": "alphabetic", "dy": -42, "color": "black"}, "encoding": {"x": {"datum": 600, "type": "quantitative"}, "y": {"datum": 1345, "type": "quantitative", "axis": null}}},
{"mark": {"type": "text", "text": "1", "font": "Liberation Sans", "fontSize": 7.5, "angle": 270, "align": "left", "baseline": "alphabetic", "dy": -31, "color": "black"}, "encoding": {"x": {"datum": 600, "type": "quantitative"}, "y": {"datum": 1345, "type": "quantitative", "axis": null}}},
{"mark": {"type": "text", "text": "[GeV]", "font": "Liberation Sans", "fontSize": 15.5, "angle": 270, "align": "right", "baseline": "alphabetic", "dy": -40, "color": "black"}, "encoding": {"x": {"datum": 600, "type": "quantitative"}, "y": {"datum": 1600, "type": "quantitative", "axis": null}}},
{"mark": {"type": "text", "text": "95% CL upper limit on cross section [pb]", "font": "Liberation Sans", "fontSize": 15.5, "angle": 270, "align": "center", "baseline": "alphabetic", "dy": 72, "color": "black"}, "encoding": {"x": {"datum": 1950, "type": "quantitative"}, "y": {"datum": 808, "type": "quantitative", "axis": null}}}
],
"resolve": {"axis": {"y": "independent"}}
}
